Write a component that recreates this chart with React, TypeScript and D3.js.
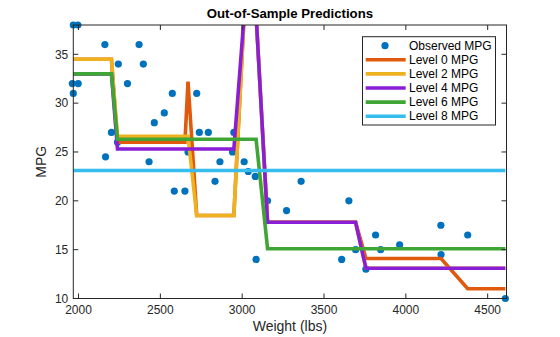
import React from "react";
import * as d3 from "d3";

// Observed test set (weight in lbs, MPG)
const obsWeight = [1968, 1962, 1968, 1996, 1998, 2161, 2165, 2201, 2238, 2243, 2299, 2370, 2396, 2431, 2463, 2524, 2573, 2585, 2650, 2669, 2722, 2738, 2793, 2834, 2864, 2941, 2949, 3012, 3037, 3080, 3085, 3155, 3271, 3360, 3608, 3652, 3693, 3756, 3815, 3846, 3962, 4214, 4215, 4378, 4608];
const obsMPG = [38, 32, 31, 38, 32, 36, 24.5, 27, 26, 34, 32, 36, 34, 24, 28, 29, 31, 21, 21, 25, 31, 27, 27, 22, 24, 25, 27, 24, 23, 22.5, 14, 20, 19, 22, 14, 20, 15, 13, 16.5, 15, 15.5, 17.5, 14.5, 16.5, 10];

// Predictions at each sorted test weight
const level0 = [34.5, 34.5, 34.5, 34.5, 34.5, 34.5, 34.5, 34.5, 26.0, 26.0, 26.0, 26.0, 26.0, 26.0, 26.0, 26.0, 26.0, 26.0, 26.0, 32.2, 18.5, 18.5, 18.5, 18.5, 18.5, 18.5, 18.5, 39, 39, 39, 39, 17.8, 17.8, 17.8, 17.8, 17.8, 17.8, 14.1, 14.1, 14.1, 14.1, 14.1, 14.1, 11.0, 11.0];
const level2 = [34.5, 34.5, 34.5, 34.5, 34.5, 34.5, 34.5, 34.5, 26.6, 26.6, 26.6, 26.6, 26.6, 26.6, 26.6, 26.6, 26.6, 26.6, 26.6, 26.6, 18.5, 18.5, 18.5, 18.5, 18.5, 18.5, 18.5, 39, 39, 39, 39, 17.8, 17.8, 17.8, 17.8, 17.8, 17.8, 13.1, 13.1, 13.1, 13.1, 13.1, 13.1, 13.1, 13.1];
const level4 = [33, 33, 33, 33, 33, 33, 33, 33, 25.3, 25.3, 25.3, 25.3, 25.3, 25.3, 25.3, 25.3, 25.3, 25.3, 25.3, 25.3, 25.3, 25.3, 25.3, 25.3, 25.3, 25.3, 25.3, 39, 39, 39, 39, 17.8, 17.8, 17.8, 17.8, 17.8, 17.8, 13.1, 13.1, 13.1, 13.1, 13.1, 13.1, 13.1, 13.1];
const level6 = [33, 33, 33, 33, 33, 33, 33, 33, 26.3, 26.3, 26.3, 26.3, 26.3, 26.3, 26.3, 26.3, 26.3, 26.3, 26.3, 26.3, 26.3, 26.3, 26.3, 26.3, 26.3, 26.3, 26.3, 26.3, 26.3, 26.3, 26.3, 15.1, 15.1, 15.1, 15.1, 15.1, 15.1, 15.1, 15.1, 15.1, 15.1, 15.1, 15.1, 15.1, 15.1];
const level8 = obsWeight.map(() => 23.1);

const seriesNames = ["Level 0 MPG", "Level 2 MPG", "Level 4 MPG", "Level 6 MPG", "Level 8 MPG"];
const seriesColors = ["#DF5A0C", "#EEB120", "#8A1ED6", "#3FA535", "#36BCED"];
const seriesValues = [level0, level2, level4, level6, level8];

const xTicks = [2000, 2500, 3000, 3500, 4000, 4500];
const yTicks = [10, 15, 20, 25, 30, 35];
const xDomain = [1968, 4615];
const yDomain = [10, 38];

const W = 560, H = 337;
const L = 73.3, R = 506.5, T = 25, B = 298.5;
const AX = "#262626";
const FONT = "'Liberation Sans', Arial, Helvetica, sans-serif";

export default function App() {
  const x = d3.scaleLinear().domain(xDomain).range([L, R]);
  const y = d3.scaleLinear().domain(yDomain).range([B, T]);
  const sortIdx = d3.range(obsWeight.length).sort((a, b) => obsWeight[a] - obsWeight[b]);

  const paths = seriesValues.map((vals) =>
    d3.line<number>().x((i) => x(obsWeight[i])).y((i) => y(vals[i]))(sortIdx) || ""
  );
  const tl = 5;
  const legX = 362.5, legY = 36.7, legW = 133, legH = 88.3, rowH = 14.1;

  return (
    <svg width={W} height={H} style={{ position: "absolute", left: 0, top: 0, background: "#fff" }}>
      <defs>
        <clipPath id="plotclip">
          <rect x={L} y={T} width={R - L} height={B - T} />
        </clipPath>
      </defs>
      <rect x={0} y={0} width={W} height={H} fill="#fff" />
      {obsWeight.map((w, i) => (
        <circle key={i} cx={x(w)} cy={y(obsMPG[i])} r={3.6} fill="#0072BD" />
      ))}
      <g clipPath="url(#plotclip)">
        {paths.map((d, k) => (
          <path key={k} d={d} fill="none" stroke={seriesColors[k]} strokeWidth={3.6} strokeLinejoin="miter" />
        ))}
      </g>
      {/* axes box */}
      <rect x={L} y={T} width={R - L} height={B - T} fill="none" stroke={AX} strokeWidth={1} />
      {xTicks.map((t) => (
        <g key={t}>
          <line x1={x(t)} x2={x(t)} y1={B} y2={B - tl} stroke={AX} />
          <line x1={x(t)} x2={x(t)} y1={T} y2={T + tl} stroke={AX} />
          <text x={x(t)} y={B + 15.5} fontSize={12} fontFamily={FONT} textAnchor="middle" fill={AX}>{t}</text>
        </g>
      ))}
      {yTicks.map((t) => (
        <g key={t}>
          <line x1={L} x2={L + tl} y1={y(t)} y2={y(t)} stroke={AX} />
          <line x1={R} x2={R - tl} y1={y(t)} y2={y(t)} stroke={AX} />
          <text x={L - 5} y={y(t) + 4.3} fontSize={12} fontFamily={FONT} textAnchor="end" fill={AX}>{t}</text>
        </g>
      ))}
      <text x={(L + R) / 2} y={331} fontSize={14} fontFamily={FONT} textAnchor="middle" fill={AX}>Weight (lbs)</text>
      <text transform={`translate(46,${(T + B) / 2}) rotate(-90)`} fontSize={14} fontFamily={FONT} textAnchor="middle" fill={AX}>MPG</text>
      <text x={(L + R) / 2} y={18} fontSize={13.2} fontWeight="bold" fontFamily={FONT} textAnchor="middle" fill="#000">Out-of-Sample Predictions</text>
      {/* legend */}
      <rect x={legX} y={legY} width={legW} height={legH} fill="#fff" stroke={AX} strokeWidth={1} />
      <circle cx={385} cy={legY + 9} r={3.6} fill="#0072BD" />
      <text x={409} y={legY + 9 + 4.2} fontSize={12} fontFamily={FONT} fill="#000">Observed MPG</text>
      {seriesNames.map((n, k) => {
        const cy = legY + 9 + rowH * (k + 1);
        return (
          <g key={n}>
            <line x1={365.7} x2={405.7} y1={cy} y2={cy} stroke={seriesColors[k]} strokeWidth={3.6} />
            <text x={409} y={cy + 4.2} fontSize={12} fontFamily={FONT} fill="#000">{n}</text>
          </g>
        );
      })}
    </svg>
  );
}
